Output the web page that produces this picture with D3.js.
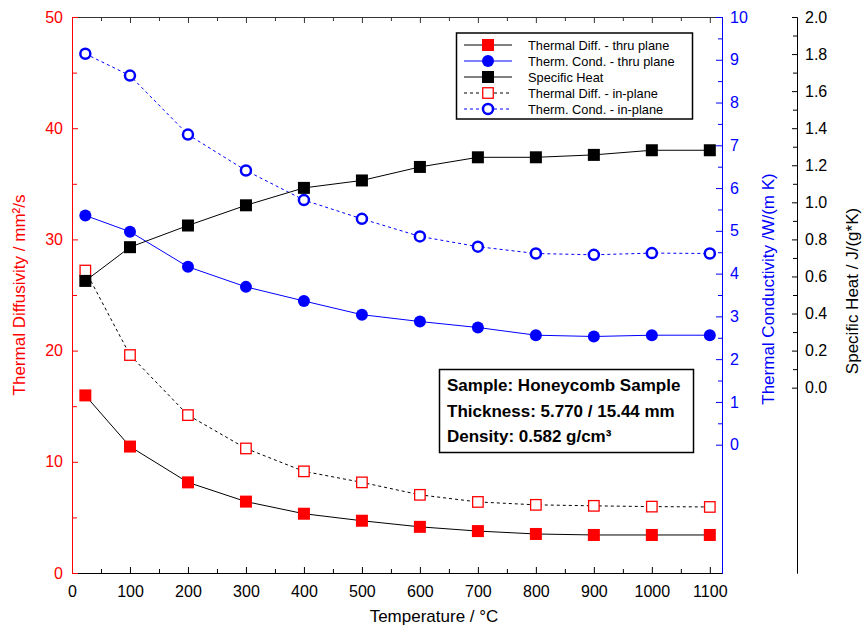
<!DOCTYPE html>
<html>
<head>
<meta charset="utf-8">
<script src="https://cdn.jsdelivr.net/npm/d3@7"></script>
<style>
  html, body { margin: 0; padding: 0; background: #fff; }
  svg { display: block; font-family: "Liberation Sans", Arial, sans-serif; }
</style>
</head>
<body>
<svg id="chart"></svg>
<script>
const W = 863;
const H = 626;

// ── Data ──────────────────────────────────────────────────────────────────────

const TEMPS      = [23, 100, 200, 300, 400, 500, 600, 700, 800, 900, 1000, 1100];
const DIFF_THRU  = [15.97, 11.37, 8.15, 6.42, 5.33, 4.70, 4.15, 3.77, 3.51, 3.42, 3.42, 3.42];
const DIFF_IN    = [27.2, 19.6, 14.2, 11.2, 9.14, 8.15, 7.03, 6.39, 6.13, 6.04, 5.97, 5.94];
const COND_THRU  = [5.36, 4.98, 4.16, 3.69, 3.36, 3.04, 2.88, 2.74, 2.56, 2.53, 2.56, 2.56];
const COND_IN    = [9.14, 8.63, 7.25, 6.41, 5.72, 5.28, 4.87, 4.63, 4.47, 4.44, 4.48, 4.47];
const SPEC_HEAT  = [0.576, 0.758, 0.875, 0.984, 1.078, 1.118, 1.191, 1.243, 1.243, 1.256, 1.281, 1.281];

const X_TICKS    = d3.range(0, 1101, 100);
const DIFF_TICKS = d3.range(0, 51, 10);
const COND_TICKS = d3.range(0, 11, 1);
const CP_TICKS   = d3.range(0, 2.01, 0.2);

const INFO_LINES = [
  'Sample: Honeycomb Sample',
  'Thickness: 5.770 / 15.44 mm',
  'Density: 0.582 g/cm³',
];

// ── Layout & scales ───────────────────────────────────────────────────────────

const L = 72, R = 722, T = 17, B = 573;
const CP_X = 797;
const RED = '#ff0000', BLUE = '#0000ff';

const x     = d3.scaleLinear().domain([0, 1121]).range([L, R]);
const yDiff = d3.scaleLinear().domain([0, 50]).range([B, T]);
const yCond = d3.scaleLinear().domain([-3, 10]).range([B, T]);
const yCp   = d3.scaleLinear().domain([-1, 2]).range([B, T]);

const svg = d3.select('#chart').attr('width', W).attr('height', H);

// ── Axes ──────────────────────────────────────────────────────────────────────

function styleAxis(g, color, fontSize) {
  g.selectAll('path').attr('stroke', color);
  g.selectAll('line').attr('stroke', color);
  g.selectAll('text').attr('fill', color).attr('font-size', fontSize).attr('font-family', null);
}

// top frame
svg.append('g').attr('transform', `translate(0,${T})`)
  .call(d3.axisTop(x).tickValues(d3.range(50, 1101, 100)).tickSize(-4).tickSizeOuter(0).tickFormat(''))
  .call(g => styleAxis(g, '#333', 0));
svg.append('g').attr('transform', `translate(0,${T})`)
  .call(d3.axisTop(x).tickValues(X_TICKS.slice(1)).tickSize(-6).tickSizeOuter(0).tickFormat(''))
  .call(g => styleAxis(g, '#333', 0));

// bottom
svg.append('g').attr('transform', `translate(0,${B})`)
  .call(d3.axisBottom(x).tickValues(d3.range(50, 1101, 100)).tickSize(-4).tickSizeOuter(0).tickFormat(''))
  .call(g => styleAxis(g, '#000', 0));
svg.append('g').attr('transform', `translate(0,${B})`)
  .call(d3.axisBottom(x).tickValues(X_TICKS).tickSize(-6).tickSizeOuter(0).tickPadding(13).tickFormat(d3.format('d')))
  .call(g => styleAxis(g, '#000', 16));

// left (diffusivity)
svg.append('g').attr('transform', `translate(${L},0)`)
  .call(d3.axisLeft(yDiff).tickValues(d3.range(5, 50, 10)).tickSize(-5).tickSizeOuter(0).tickFormat(''))
  .call(g => styleAxis(g, RED, 0));
svg.append('g').attr('transform', `translate(${L},0)`)
  .call(d3.axisLeft(yDiff).tickValues(DIFF_TICKS).tickSize(-6).tickSizeOuter(0).tickPadding(9))
  .call(g => styleAxis(g, RED, 16));

// right (conductivity)
svg.append('g').attr('transform', `translate(${R},0)`)
  .call(d3.axisRight(yCond).tickValues(d3.range(0.5, 10, 1)).tickSize(-4).tickSizeOuter(0).tickFormat(''))
  .call(g => styleAxis(g, BLUE, 0));
svg.append('g').attr('transform', `translate(${R},0)`)
  .call(d3.axisRight(yCond).tickValues(COND_TICKS).tickSize(-6).tickSizeOuter(0).tickPadding(8))
  .call(g => styleAxis(g, BLUE, 16));

// far right (specific heat)
svg.append('g').attr('transform', `translate(${CP_X},0)`)
  .call(d3.axisRight(yCp).tickValues(d3.range(0.1, 2, 0.2)).tickSize(-4).tickSizeOuter(0).tickFormat(''))
  .call(g => styleAxis(g, '#000', 0));
svg.append('g').attr('transform', `translate(${CP_X},0)`)
  .call(d3.axisRight(yCp).tickValues(CP_TICKS).tickSize(-5).tickSizeOuter(0).tickPadding(8).tickFormat(d3.format('.1f')))
  .call(g => styleAxis(g, '#000', 16));

// axis titles
svg.append('text').attr('x', 434).attr('y', 622).attr('text-anchor', 'middle')
  .attr('font-size', 17).text('Temperature / °C');
svg.append('text').attr('transform', 'translate(25,295) rotate(-90)').attr('text-anchor', 'middle')
  .attr('font-size', 17).attr('fill', RED).text('Thermal Diffusivity / mm²/s');
svg.append('text').attr('transform', 'translate(774,289) rotate(-90)').attr('text-anchor', 'middle')
  .attr('font-size', 17).attr('fill', BLUE).text('Thermal Conductivity /W/(m K)');
svg.append('text').attr('transform', 'translate(858,291) rotate(-90)').attr('text-anchor', 'middle')
  .attr('font-size', 17).text('Specific Heat / J/(g*K)');

// ── Series ────────────────────────────────────────────────────────────────────

const SERIES = [
  { name: 'Thermal Diff. - in-plane',   vals: DIFF_IN,   y: yDiff, line: '#000', dash: '3,3', marker: 'square', fill: '#fff', stroke: RED, sw: 1.3 },
  { name: 'Therm. Cond. - in-plane',    vals: COND_IN,   y: yCond, line: BLUE,   dash: '3,3', marker: 'circle', fill: '#fff', stroke: BLUE, sw: 2.5 },
  { name: 'Thermal Diff. - thru plane', vals: DIFF_THRU, y: yDiff, line: '#000', dash: null,  marker: 'square', fill: RED,    stroke: 'none', sw: 0 },
  { name: 'Therm. Cond. - thru plane',  vals: COND_THRU, y: yCond, line: BLUE,   dash: null,  marker: 'circle', fill: BLUE,   stroke: 'none', sw: 0 },
  { name: 'Specific Heat',              vals: SPEC_HEAT, y: yCp,   line: '#000', dash: null,  marker: 'square', fill: '#000', stroke: 'none', sw: 0 },
];

function drawMarker(g, s, cx, cy) {
  if (s.marker === 'square') {
    const sz = s.sw ? 10.5 : 12;
    g.append('rect').attr('x', cx - sz / 2).attr('y', cy - sz / 2)
      .attr('width', sz).attr('height', sz)
      .attr('fill', s.fill).attr('stroke', s.stroke).attr('stroke-width', s.sw);
  } else {
    g.append('circle').attr('cx', cx).attr('cy', cy).attr('r', s.sw ? 5 : 6)
      .attr('fill', s.fill).attr('stroke', s.stroke).attr('stroke-width', s.sw);
  }
}

SERIES.forEach(s => {
  const g = svg.append('g');
  const line = d3.line().x((d, i) => x(TEMPS[i])).y(d => s.y(d));
  g.append('path').datum(s.vals).attr('d', line)
    .attr('fill', 'none').attr('stroke', s.line).attr('stroke-width', 1)
    .attr('stroke-dasharray', s.dash);
  s.vals.forEach((v, i) => drawMarker(g, s, x(TEMPS[i]), s.y(v)));
});

// ── Legend ────────────────────────────────────────────────────────────────────

const LEGEND_ORDER = [2, 3, 4, 0, 1];
const leg = svg.append('g');
leg.append('rect').attr('x', 456.5).attr('y', 33).attr('width', 236).attr('height', 86)
  .attr('fill', '#fff').attr('stroke', '#000').attr('stroke-width', 1.5);
LEGEND_ORDER.forEach((k, i) => {
  const s = SERIES[k];
  const cy = 45 + i * 16;
  leg.append('line').attr('x1', 464).attr('x2', 512).attr('y1', cy).attr('y2', cy)
    .attr('stroke', s.line).attr('stroke-width', 1).attr('stroke-dasharray', s.dash);
  drawMarker(leg, s, 488, cy);
  leg.append('text').attr('x', 528).attr('y', cy + 4.5).attr('font-size', 12.8).text(s.name);
});

// ── Info box ──────────────────────────────────────────────────────────────────

const info = svg.append('g');
info.append('rect').attr('x', 439.5).attr('y', 369.5).attr('width', 254).attr('height', 83)
  .attr('fill', '#fff').attr('stroke', '#000').attr('stroke-width', 1.5);
INFO_LINES.forEach((t, i) => {
  info.append('text').attr('x', 447).attr('y', 391 + i * 25.7)
    .attr('font-size', 17).attr('font-weight', 'bold').text(t);
});
</script>
</body>
</html>
